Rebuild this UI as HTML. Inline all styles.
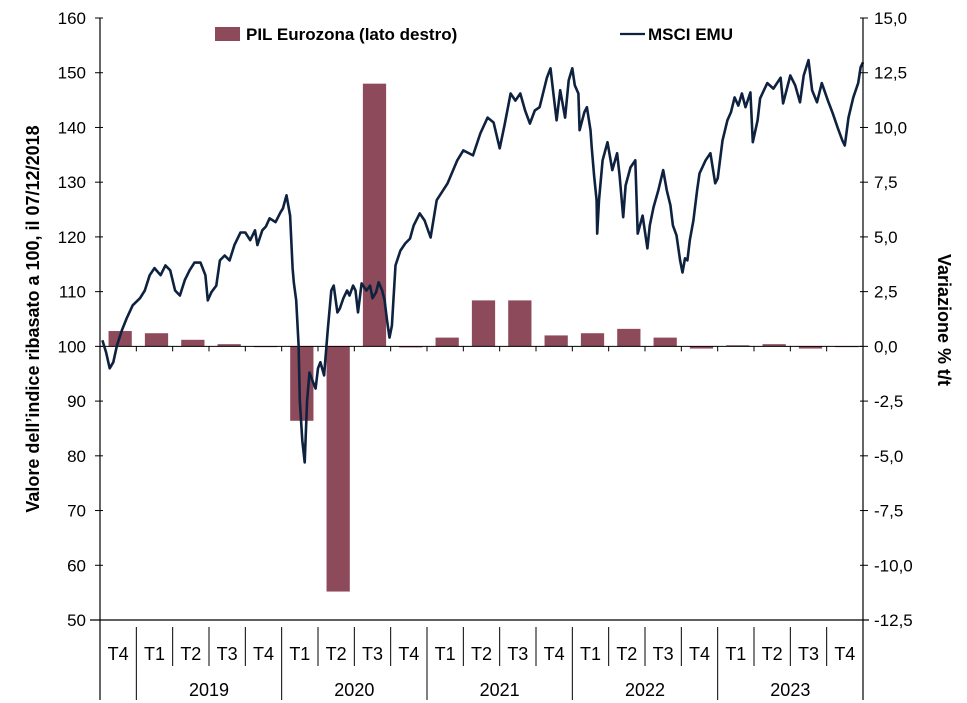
<!DOCTYPE html>
<html><head><meta charset="utf-8"><style>
body{margin:0;background:#fff;}
svg{display:block;font-family:"Liberation Sans",Arial,sans-serif;}
</style></head><body>
<svg id="chart" width="967" height="703" viewBox="0 0 967 703"></svg>
<script>
const quarterLabels=["T4","T1","T2","T3","T4","T1","T2","T3","T4","T1","T2","T3","T4","T1","T2","T3","T4","T1","T2","T3","T4"];
const gdpValues=[0.7,0.6,0.3,0.1,0.0,-3.4,-11.2,12.0,-0.05,0.4,2.1,2.1,0.5,0.6,0.8,0.4,-0.1,0.05,0.1,-0.1,0.0];
const years=["2019","2020","2021","2022","2023"];
const leftTicks=[50,60,70,80,90,100,110,120,130,140,150,160];
const rightTicks=["15,0","12,5","10,0","7,5","5,0","2,5","0,0","-2,5","-5,0","-7,5","-10,0","-12,5"];
const rightTickVals=[15,12.5,10,7.5,5,2.5,0,-2.5,-5,-7.5,-10,-12.5];
const msciMonths=[0.2,0.5,0.8,1.1,1.4,1.8,2.2,2.7,3.3,3.7,4.1,4.5,5.0,5.4,5.8,6.2,6.6,7.0,7.4,7.8,8.3,8.7,8.9,9.2,9.6,9.9,10.3,10.7,11.1,11.6,12.0,12.4,12.8,13.0,13.4,13.7,14.0,14.5,14.9,15.1,15.4,15.7,15.9,16.0,16.2,16.4,16.5,16.7,16.9,17.1,17.3,17.6,17.8,18.0,18.2,18.5,18.8,19.1,19.3,19.6,19.8,20.1,20.4,20.6,20.9,21.1,21.3,21.6,22.0,22.3,22.5,22.8,23.0,23.3,23.5,23.7,23.9,24.1,24.4,24.8,25.2,25.6,25.9,26.4,26.8,27.3,27.8,28.7,29.5,30.0,30.8,31.4,32.0,32.5,33.0,33.4,33.9,34.3,34.7,35.1,35.5,35.9,36.3,36.9,37.2,37.4,37.7,38.0,38.4,38.7,39.0,39.2,39.5,39.6,40.0,40.2,40.5,40.6,40.8,41.0,41.05,41.2,41.5,41.9,42.3,42.7,42.9,43.2,43.4,43.8,44.2,44.4,44.8,45.2,45.4,45.7,46.1,46.5,46.8,47.1,47.3,47.6,47.9,48.1,48.3,48.5,48.7,49.0,49.3,49.5,50.0,50.4,50.8,51.0,51.4,51.8,52.1,52.4,52.7,53.0,53.3,53.7,53.9,54.3,54.5,55.1,55.6,56.2,56.4,57.0,57.4,57.8,58.1,58.5,58.8,59.2,59.6,60.1,60.5,60.9,61.3,61.5,61.8,62.2,62.6,62.8,63.0];
const msciValues=[101.1,98.9,96.0,97.1,100.2,102.9,105.1,107.5,108.8,110.2,113.0,114.3,113.0,114.8,113.9,110.2,109.3,112.1,113.9,115.3,115.3,113.0,108.4,109.9,111.1,115.7,116.6,115.7,118.5,120.8,120.8,119.4,121.2,118.5,121.2,121.9,123.4,122.7,124.5,125.2,127.6,123.9,114.3,111.7,108.4,100.2,90.1,82.8,78.8,90.1,95.2,93.4,92.3,96.0,97.1,94.7,102.9,110.2,111.1,106.2,106.9,108.8,110.2,109.3,111.1,110.2,106.2,111.5,110.2,111.1,108.8,109.9,111.7,110.2,108.4,104.8,101.6,103.8,114.8,117.5,118.8,119.7,122.1,124.3,123.0,119.9,126.7,129.8,134.0,135.8,134.9,138.9,141.8,140.9,136.2,140.4,146.2,144.9,146.2,143.1,140.7,143.1,143.7,149.1,150.8,146.8,141.3,146.8,141.8,148.6,150.8,147.7,146.2,139.5,142.8,143.7,139.5,136.4,131.2,126.7,120.6,126.7,134.0,137.3,132.2,135.3,131.2,123.6,129.4,132.7,134.0,120.6,123.9,117.9,122.1,125.4,128.5,132.2,128.5,125.8,122.1,120.3,115.7,113.5,116.1,115.7,119.4,123.0,128.5,131.6,134.0,135.3,129.8,130.7,137.6,141.3,142.8,145.5,144.0,146.2,143.7,146.4,137.3,141.3,145.3,148.1,147.1,149.1,144.4,149.5,147.7,144.6,149.5,152.3,146.8,144.6,148.1,144.9,142.6,140.0,137.6,136.7,141.8,145.5,148.1,151.0,151.9];

const NS="http://www.w3.org/2000/svg";
const svg=document.getElementById('chart');
const L=100,R=863,T=18,B=620;
const yL=v=>B-(v-50)/110*(B-T);
const yR=v=>B-(v+12.5)/27.5*(B-T);
const qw=(R-L)/quarterLabels.length;
const xM=m=>L+m/(quarterLabels.length*3)*(R-L);
function el(tag,attrs,parent){const e=document.createElementNS(NS,tag);for(const k in attrs)e.setAttribute(k,attrs[k]);(parent||svg).appendChild(e);return e;}
function txt(s,attrs){const e=el('text',attrs);e.textContent=s;return e;}

gdpValues.forEach((v,i)=>{
  const cx=L+qw*(i+0.5), w=qw*0.64;
  const y0=yR(0), y1=yR(v);
  const r=el('rect',{x:cx-w/2+2,y:Math.min(y0,y1),width:w,height:Math.max(0.8,Math.abs(y1-y0)),fill:'#8c4a5a'});
  
  
});
const z=el('line',{x1:L,x2:R,y1:yR(0),y2:yR(0),stroke:'#000','stroke-width':1});


for(let i=1;i<quarterLabels.length;i++){el('line',{x1:L+qw*i,x2:L+qw*i,y1:yR(0),y2:yR(0)+5,stroke:'#000','stroke-width':1});}

let d='';
msciMonths.forEach((m,i)=>{d+=(i?'L':'M')+xM(m).toFixed(1)+','+yL(msciValues[i]).toFixed(1);});
const p=el('path',{d:d,fill:'none',stroke:'#0e2240','stroke-width':2.6,'stroke-linejoin':'round'});



const la=el('line',{x1:L,x2:L,y1:T,y2:700,stroke:'#000','stroke-width':1.2});


const ra=el('line',{x1:R,x2:R,y1:T,y2:700,stroke:'#000','stroke-width':1.2});


const xa=el('line',{x1:L-10,x2:R+6,y1:B,y2:B,stroke:'#000','stroke-width':1.2});



leftTicks.forEach(v=>{
  el('line',{x1:L-5,x2:L+3,y1:yL(v),y2:yL(v),stroke:'#000'});
  const t=txt(String(v),{x:L-14,y:yL(v)+6,'font-size':17,'text-anchor':'end',fill:'#000'});
  
  
});
rightTickVals.forEach((v,i)=>{
  el('line',{x1:R-3,x2:R+5,y1:yR(v),y2:yR(v),stroke:'#000'});
  const t=txt(rightTicks[i],{x:R+11,y:yR(v)+6,'font-size':17,fill:'#000'});
  
  
});

quarterLabels.forEach((q,i)=>{
  const t=txt(q,{x:L+qw*(i+0.5),y:660,'font-size':18,'text-anchor':'middle',fill:'#000'});
  
  
  if(i>0){const yr=(i-1)%4===0; el('line',{x1:L+qw*i,x2:L+qw*i,y1:627,y2:yr?700:666,stroke:'#000'});}
});
years.forEach((y,i)=>{
  const t=txt(y,{x:L+qw*(1+4*i+2),y:696,'font-size':18,'text-anchor':'middle',fill:'#000'});
  
  
});

const lt=txt("Valore dell\u2019indice ribasato a 100, il 07/12/2018",{x:0,y:0,'font-size':18,'font-weight':'bold','text-anchor':'middle',transform:'translate(39,319) rotate(-90)'});


const rt=txt("Variazione % t/t",{x:0,y:0,'font-size':18,'font-weight':'bold','text-anchor':'middle',transform:'translate(938,320) rotate(90)'});



const g=el('g',{});


el('rect',{x:215,y:27,width:25,height:14,fill:'#8c4a5a'},g);
const l1=txt("PIL Eurozona (lato destro)",{x:246,y:40,'font-size':17,'font-weight':'bold'});


el('line',{x1:620,x2:645,y1:34,y2:34,stroke:'#0e2240','stroke-width':2.2},g);
const l2=txt("MSCI EMU",{x:648,y:40,'font-size':17,'font-weight':'bold'});


</script>
</body></html>
